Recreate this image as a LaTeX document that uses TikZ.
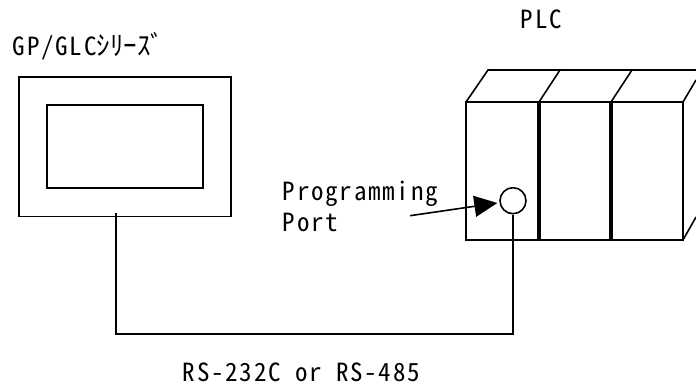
\documentclass[tikz,border=0pt]{standalone}
\usepackage{fontspec}
\usetikzlibrary{arrows.meta}
\newfontfamily\plcfont[RawFeature=+hwid,LetterSpace=7]{Noto Sans CJK JP}
\newfontfamily\kanafont{Noto Sans CJK JP}
\tikzset{
  label text/.style={anchor=base west,inner sep=0pt,font=\fontsize{25}{25}\plcfont},
  divider/.style={line width=3.4pt},
}
\begin{document}
\begin{tikzpicture}[x=1pt,y=-1pt,line width=1.6pt]
  \useasboundingbox (0,0) rectangle (696,389);

  % GP/GLC unit
  \node[draw,minimum width=212pt,minimum height=139.5pt,anchor=north west] (gp) at (18,76) {};
  \node[draw,minimum width=156pt,minimum height=83pt,anchor=north west] (screen) at (46,104) {};
  \node[label text] (gpname) at (12,55) {GP/GLC{\fontsize{27}{27}\kanafont ｼﾘｰｽﾞ}};

  % PLC modules
  \node[label text] (plcname) at (520,28) {PLC};
  \draw (466,102) rectangle (683,240);
  \draw (466,102) -- (488,70) -- (696,70);
  \draw (539,102) -- (560,70);
  \draw (611,102) -- (632,70);
  \draw (683,102) -- (696,80);
  \draw (683,240) -- (696,217);
  \draw[divider] (539,102) -- (539,240);
  \draw[divider] (611,102) -- (611,240);

  % port and cable
  \node[draw,circle,minimum size=26pt,inner sep=0pt,fill=white] (port) at (513,200.7) {};
  \coordinate (cablestart) at (115.7,213);
  \coordinate (portfoot) at (port.south);
  \draw (cablestart) -- (115.7,333.7) -- (portfoot |- 0,333.7) -- (portfoot);

  \node[label text] (progname) at (282,200) {Programming};
  \node[label text] (portname) at (282,231.6) {Port};
  \coordinate (arrowtail) at (410,215.7);
  \draw[-{Triangle[length=23pt,width=21pt]},shorten >=2pt] (arrowtail) -- (port);

  \node[label text] (linkname) at (182,381) {RS-232C or RS-485};
\end{tikzpicture}
\end{document}
